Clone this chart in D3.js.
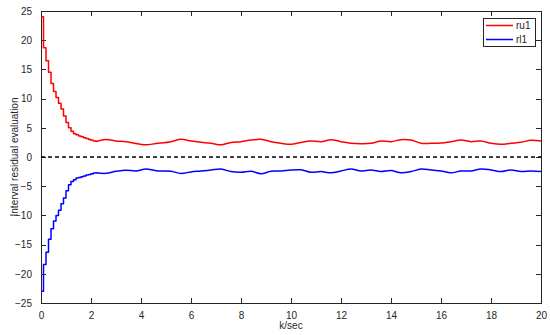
<!DOCTYPE html>
<html>
<head>
<meta charset="utf-8">
<script src="https://cdn.jsdelivr.net/npm/d3@7"></script>
<style>
  html, body { margin: 0; padding: 0; background: #fff; }
  svg { display: block; font-family: "Liberation Sans", Arial, Helvetica, sans-serif; }
</style>
</head>
<body>
<svg id="chart" width="550" height="335"></svg>
<script>
// ---- data ----
// staircase part, sampled every 0.1 s (value held until next sample)
const stepTimes = [0,0.1,0.2,0.3,0.4,0.5,0.6,0.7,0.8,0.9,1.0,1.1,1.2,1.3,1.4,1.5,1.6,1.7,1.8,1.9,2.0,2.1,2.2];
const stepRu1 = [24.0,18.7,16.5,14.5,12.6,11.2,10.2,9.2,8.2,7.0,5.9,5.0,4.4,4.0,3.8,3.6,3.45,3.3,3.15,3.0,2.85,2.75,2.65];
const stepRl1 = [-23.0,-18.4,-16.3,-14.1,-12.3,-10.95,-10.0,-9.1,-8.0,-7.0,-5.8,-4.75,-4.2,-3.9,-3.6,-3.5,-3.4,-3.25,-3.1,-2.98,-2.85,-2.75,-2.68];
// oscillating part
const waveTimes = [2.2,2.6,3.0,3.4,3.8,4.2,4.6,5.2,5.6,6.0,6.4,6.8,7.2,7.6,8.0,8.4,8.8,9.2,9.6,10.0,10.4,10.8,11.2,11.6,12.0,12.4,12.8,13.2,13.6,14.0,14.4,14.8,15.2,15.6,16.0,16.4,16.8,17.2,17.6,18.0,18.4,18.8,19.2,19.6,20.0];
const waveRu1 = [2.65,3.0,2.75,2.6,2.32,2.08,2.3,2.63,3.05,2.74,2.52,2.35,2.08,2.5,2.63,2.9,3.05,2.63,2.35,2.17,2.5,2.74,2.63,2.97,2.63,2.35,2.29,2.35,2.74,2.63,2.97,2.9,2.35,2.35,2.4,2.63,2.91,2.63,2.74,2.35,2.17,2.35,2.52,2.86,2.74];
const waveRl1 = [-2.68,-2.8,-2.45,-2.25,-2.4,-2.05,-2.35,-2.45,-2.82,-2.55,-2.4,-2.22,-2.05,-2.5,-2.62,-2.45,-2.85,-2.45,-2.4,-2.22,-2.2,-2.62,-2.5,-2.7,-2.4,-2.05,-2.4,-2.22,-2.5,-2.33,-2.7,-2.5,-2.05,-2.22,-2.4,-2.7,-2.4,-2.4,-2.05,-2.22,-2.5,-2.22,-2.5,-2.4,-2.5];

const xTicks = [0,2,4,6,8,10,12,14,16,18,20];
const yTicks = [-25,-20,-15,-10,-5,0,5,10,15,20,25];
const seriesNames = ["ru1","rl1"];
const seriesColors = ["#ff0000","#0000ff"];
const xLabel = "k/sec";
const yLabel = "Interval residual evaluation";

// ---- layout ----
const L = 41, R = 541, T = 11, B = 303;
const svg = d3.select("#chart");
const x = d3.scaleLinear().domain([0,20]).range([L,R]);
const y = d3.scaleLinear().domain([-25,25]).range([B,T]);
const axisColor = "#262626";

// box
svg.append("rect").attr("x",L).attr("y",T).attr("width",R-L).attr("height",B-T)
  .attr("fill","#fff").attr("stroke",axisColor).attr("stroke-width",1).attr("shape-rendering","crispEdges");

// axes with inward ticks
const tickFont = 10;
const gx = svg.append("g").attr("transform",`translate(0,${B})`)
  .call(d3.axisBottom(x).tickValues(xTicks).tickSizeInner(-5).tickSizeOuter(0).tickPadding(9).tickFormat(d3.format("d")));
const gxTop = svg.append("g").attr("transform",`translate(0,${T})`)
  .call(d3.axisTop(x).tickValues(xTicks).tickSizeInner(-5).tickSizeOuter(0).tickFormat(""));
const gy = svg.append("g").attr("transform",`translate(${L},0)`)
  .call(d3.axisLeft(y).tickValues(yTicks).tickSizeInner(-5).tickSizeOuter(0).tickPadding(9).tickFormat(d3.format("d")));
const gyR = svg.append("g").attr("transform",`translate(${R},0)`)
  .call(d3.axisRight(y).tickValues(yTicks).tickSizeInner(-5).tickSizeOuter(0).tickFormat(""));
[gx,gxTop,gy,gyR].forEach(g => {
  g.select(".domain").remove();
  g.selectAll(".tick line").attr("stroke",axisColor).attr("shape-rendering","crispEdges");
  g.selectAll("text").attr("fill",axisColor).attr("font-size",tickFont)
    .attr("font-family","'Liberation Sans', Arial, sans-serif");
});

// zero dashed line
svg.append("line").attr("x1",x(0)).attr("x2",x(20)).attr("y1",y(0)).attr("y2",y(0))
  .attr("stroke","#000").attr("stroke-width",1.3).attr("stroke-dasharray","4,3");

// series
const stepLine = d3.line().x(d=>x(d[0])).y(d=>y(d[1])).curve(d3.curveStepAfter);
const waveLine = d3.line().x(d=>x(d[0])).y(d=>y(d[1])).curve(d3.curveCatmullRom.alpha(0.5));
const series = [
  {step: stepTimes.map((t,i)=>[t,stepRu1[i]]), wave: waveTimes.map((t,i)=>[t,waveRu1[i]])},
  {step: stepTimes.map((t,i)=>[t,stepRl1[i]]), wave: waveTimes.map((t,i)=>[t,waveRl1[i]])}
];
series.forEach((s,i) => {
  const p1 = stepLine(s.step);
  const p2 = waveLine(s.wave).replace(/^M/,"L");
  svg.append("path").attr("d", p1 + p2).attr("fill","none")
    .attr("stroke",seriesColors[i]).attr("stroke-width",1.5).attr("stroke-linejoin","round");
});

// axis labels
svg.append("text").attr("x",(L+R)/2).attr("y",329).attr("text-anchor","middle")
  .attr("font-size",10).attr("fill",axisColor).text(xLabel);
svg.append("text").attr("transform",`translate(18,${(T+B)/2}) rotate(-90)`).attr("text-anchor","middle")
  .attr("font-size",10).attr("fill",axisColor).text(yLabel);

// legend
const lg = svg.append("g");
lg.append("rect").attr("x",483.5).attr("y",18.5).attr("width",52).attr("height",28)
  .attr("fill","#fff").attr("stroke",axisColor).attr("stroke-width",1);
seriesNames.forEach((n,i) => {
  const ly = 25.5 + i*14;
  lg.append("line").attr("x1",486).attr("x2",513).attr("y1",ly).attr("y2",ly)
    .attr("stroke",seriesColors[i]).attr("stroke-width",1.5);
  lg.append("text").attr("x",516).attr("y",ly+3.5).attr("font-size",10).attr("fill",axisColor).text(n);
});
</script>
</body>
</html>
